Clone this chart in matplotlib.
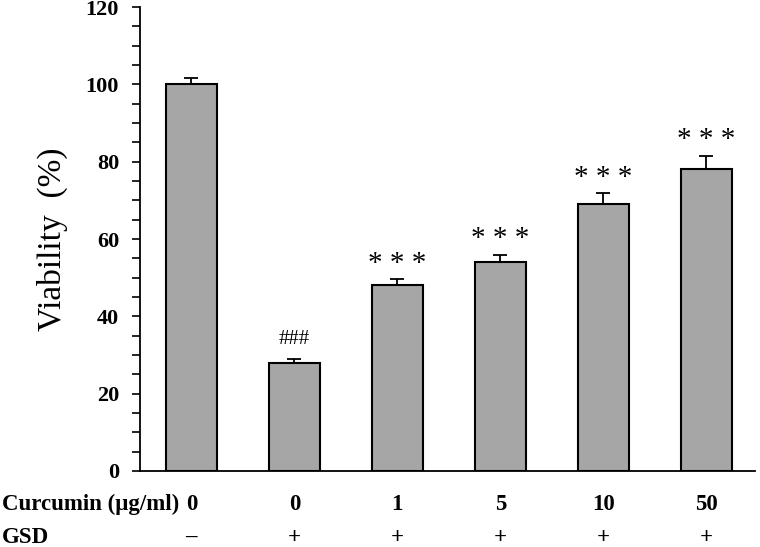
import matplotlib
matplotlib.use('Agg')
import matplotlib.pyplot as plt
from matplotlib.ticker import MultipleLocator
import matplotlib.transforms as mtransforms

# Data
curcumin = ['0', '0', '1', '5', '10', '50']
gsd = ['\u2013', '+', '+', '+', '+', '+']
viability = [100, 28, 48, 54, 69, 78]
errors = [1.7, 1.0, 1.6, 2.0, 2.9, 3.5]
marks = ['', '###', '* * *', '* * *', '* * *', '* * *']

plt.rcParams['font.family'] = ['Liberation Serif', 'DejaVu Serif']

fig = plt.figure(figsize=(7.6, 5.47), dpi=100)
ax = fig.add_axes([0.184, 0.139, 0.809, 0.848])

x = list(range(len(viability)))
ax.bar(x, viability, width=0.49, color='#a6a6a6', edgecolor='black', linewidth=1.5)
ax.errorbar(x, viability, yerr=[[0] * len(errors), errors], fmt='none',
            ecolor='black', elinewidth=1.3, capsize=5, capthick=1.3)

# significance marks
for xi, v, e, m in zip(x, viability, errors, marks):
    if m.startswith('#'):
        ax.text(xi, v + e + 4.9, m, ha='center', va='center', fontsize=15)
    elif m:
        ax.text(xi, v + e + 4.0, m, ha='center', va='center', fontsize=21)

ax.set_xlim(-0.5, 5.47)
ax.set_ylim(0, 120)
ax.yaxis.set_major_locator(MultipleLocator(20))
ax.yaxis.set_minor_locator(MultipleLocator(5))
ax.tick_params(axis='y', which='major', length=6, width=1.2, labelsize=16, pad=9)
ax.tick_params(axis='y', which='minor', length=6, width=1.2)
for lbl in ax.get_yticklabels():
    lbl.set_fontweight('bold')
ax.set_xticks([])
ax.spines['top'].set_visible(False)
ax.spines['right'].set_visible(False)
ax.spines['left'].set_linewidth(1.3)
ax.spines['bottom'].set_linewidth(1.3)

ax.set_ylabel('Viability  (%)', fontsize=24, labelpad=13)

# treatment rows under the axis
trans = mtransforms.blended_transform_factory(ax.transData, fig.transFigure)
for xi, c, g in zip(x, curcumin, gsd):
    ax.text(xi, 0.077, c, transform=trans, ha='center', va='center',
            fontsize=16.5, fontweight='bold')
    ax.text(xi, 0.018, g, transform=trans, ha='center', va='center',
            fontsize=16.5, fontweight='bold')
fig.text(0.002, 0.077, 'Curcumin (\u03bcg/ml)', ha='left', va='center',
         fontsize=16.5, fontweight='bold')
fig.text(0.002, 0.018, 'GSD', ha='left', va='center',
         fontsize=16.5, fontweight='bold')

fig.savefig('out.png', dpi=100)
